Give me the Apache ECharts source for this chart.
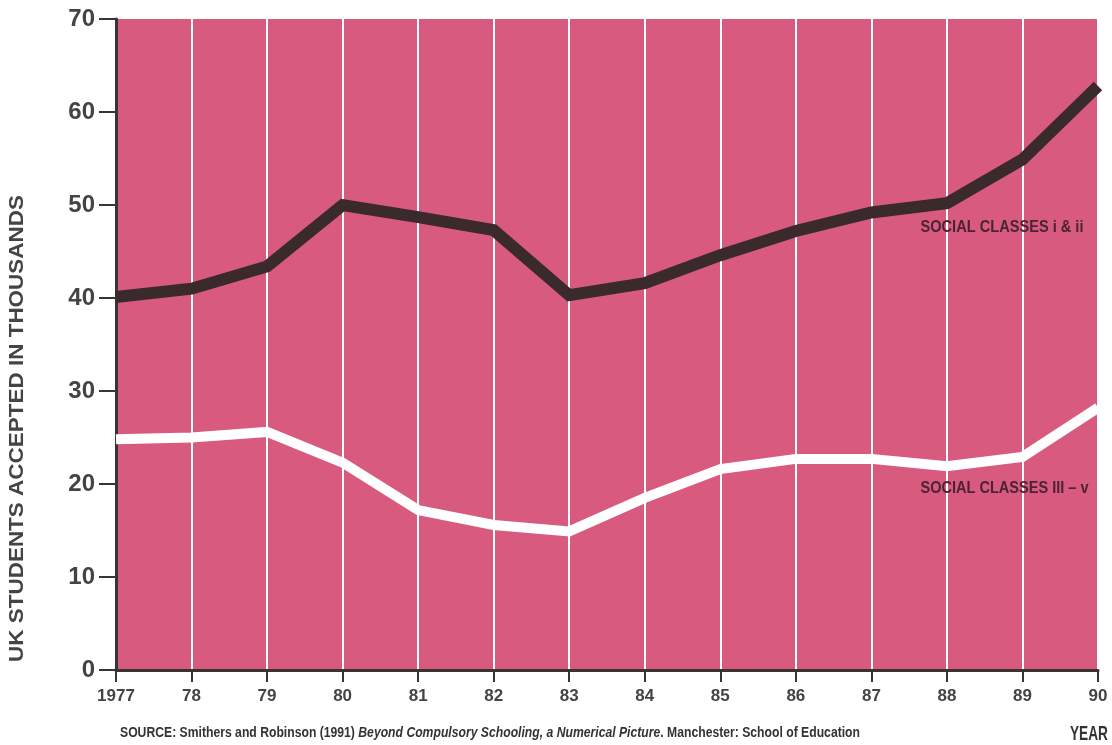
<!DOCTYPE html>
<html><head><meta charset="utf-8">
<script src="https://cdn.jsdelivr.net/npm/echarts@6/dist/echarts.min.js"></script>
<style>html,body{margin:0;padding:0;background:#fff}#c{width:1112px;height:745px}</style>
</head><body><div id="c"></div>
<script>
const years = ['1977','78','79','80','81','82','83','84','85','86','87','88','89','90'];
const classesI_II = [40.1, 41.0, 43.4, 50.0, 48.7, 47.3, 40.3, 41.6, 44.6, 47.2, 49.2, 50.2, 54.9, 62.8];
const classesIII_V = [24.8, 25.0, 25.6, 22.3, 17.2, 15.6, 14.9, 18.5, 21.6, 22.7, 22.7, 21.9, 22.9, 28.2];
const yTicks = [0, 10, 20, 30, 40, 50, 60, 70];
const labelI = 'SOCIAL CLASSES i & ii';
const labelIII = 'SOCIAL CLASSES III – v';
const yTitle = 'UK STUDENTS ACCEPTED IN THOUSANDS';
const xTitle = 'YEAR';
const srcA = 'SOURCE: Smithers and Robinson (1991) ';
const srcB = 'Beyond Compulsory Schooling, a Numerical Picture';
const srcC = '. Manchester: School of Education';

const base = "'Liberation Sans',Arial,sans-serif";
const cv = document.createElement('canvas').getContext('2d');
function w(text, font) { cv.font = font; return cv.measureText(text).width; }
function fit(text, font, width) { return width / w(text, font); }

const chart = echarts.init(document.getElementById('c'));
chart.setOption({
  animation: false,
  grid: {left: 116, right: 14, top: 19, bottom: 75, show: true, backgroundColor: '#d95a7f', borderWidth: 0},
  xAxis: {
    type: 'category', data: years, boundaryGap: false,
    axisLine: {lineStyle: {color: '#3a3334', width: 3}},
    axisTick: {show: true, length: 12, lineStyle: {color: '#3a3334', width: 2}},
    axisLabel: {color: '#444', fontSize: 17, fontWeight: 'bold', fontFamily: base, margin: 18},
    splitLine: {show: true, lineStyle: {color: '#ffffff', width: 2}}
  },
  yAxis: {
    type: 'value', min: 0, max: 70, interval: 10,
    axisLine: {show: true, lineStyle: {color: '#3a3334', width: 3}},
    axisTick: {show: true, length: 17, lineStyle: {color: '#3a3334', width: 2}},
    axisLabel: {color: '#444', fontSize: 24, fontWeight: 'bold', fontFamily: base, margin: 21,
      formatter: v => yTicks.includes(v) ? String(v) : ''},
    splitLine: {show: false}
  },
  series: [
    {type: 'line', data: classesI_II, symbol: 'none', lineStyle: {color: '#3b2a2c', width: 12, join: 'miter'}, z: 3},
    {type: 'line', data: classesIII_V, symbol: 'none', lineStyle: {color: '#ffffff', width: 10, join: 'miter'}, z: 3}
  ]
});

// annotation positions derived from data coordinates (between 1988 and 1989 ticks)
const p10 = chart.convertToPixel({gridIndex: 0}, [10, 47.6]);
const p11 = chart.convertToPixel({gridIndex: 0}, [11, 19.5]);
const annX = p10[0] + 0.65 * (p11[0] - p10[0]);
const annFont = "bold 17px " + base;
const ySrcFont = "bold 20px " + base;
const srcFont = "bold 14px " + base;
const srcFontI = "italic bold 14px " + base;
const srcW = w(srcA, srcFont) + w(srcB, srcFontI) + w(srcC, srcFont);
const yT = chart.convertToPixel({gridIndex: 0}, [0, 47.6]);
const yB = chart.convertToPixel({gridIndex: 0}, [0, 19.5]);
const xFont = "bold 20px " + base;

chart.setOption({
  graphic: [
    {type: 'text', x: annX, y: yT[1], scaleX: fit(labelI, annFont, 163),
     style: {text: labelI, fill: '#4a2433', font: annFont, verticalAlign: 'middle', align: 'left'}, z: 10},
    {type: 'text', x: annX, y: yB[1], scaleX: fit(labelIII, annFont, 168),
     style: {text: labelIII, fill: '#4a2433', font: annFont, verticalAlign: 'middle', align: 'left'}, z: 10},
    {type: 'text', x: 7, y: 662, rotation: Math.PI / 2, scaleX: fit(yTitle, ySrcFont, 467),
     style: {text: yTitle, fill: '#444', font: ySrcFont, align: 'left', verticalAlign: 'top'}},
    {type: 'text', x: 120, y: 733, scaleX: 740 / srcW,
     style: {text: '{a|' + srcA + '}{b|' + srcB + '}{a|' + srcC + '}', verticalAlign: 'middle',
       rich: {a: {fill: '#333', font: srcFont}, b: {fill: '#333', font: srcFontI}}}},
    {type: 'text', x: 1108, y: 734, scaleX: fit(xTitle, xFont, 38),
     style: {text: xTitle, fill: '#333', font: xFont, align: 'right', verticalAlign: 'middle'}}
  ]
});
</script></body></html>
